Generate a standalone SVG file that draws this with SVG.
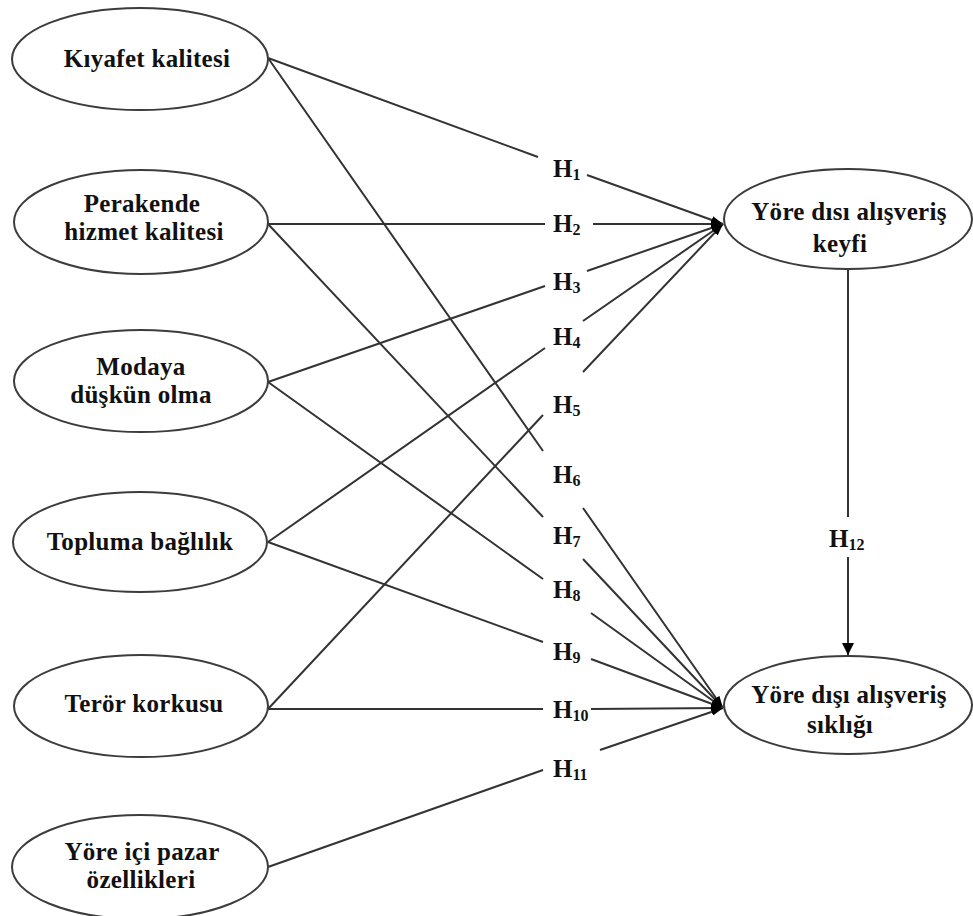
<svg xmlns="http://www.w3.org/2000/svg" width="973" height="916" viewBox="0 0 973 916">
<style>
.node ellipse { fill: #fff; stroke: #3c3c3c; stroke-width: 2; }
.node text { font-family: "Liberation Serif", "Times New Roman", serif; font-weight: bold; font-size: 25px; letter-spacing: 0.3px; fill: #111; text-anchor: middle; }
.conn path { fill: none; stroke: #333; stroke-width: 2; }
.lbl { font-family: "Liberation Serif", "Times New Roman", serif; font-weight: bold; font-size: 25px; fill: #111; }
.lbl tspan { font-size: 16px; }
</style>
<defs>
<marker id="ah" viewBox="0 0 12 8" refX="12" refY="4" markerWidth="12" markerHeight="8" markerUnits="userSpaceOnUse" orient="auto">
<path d="M0,0 L12,4 L0,8 z" fill="#000"/>
</marker>
<marker id="ah2" viewBox="0 0 12 12" refX="12" refY="6" markerWidth="12" markerHeight="12" markerUnits="userSpaceOnUse" orient="auto">
<path d="M0,0 L12,6 L0,12 z" fill="#000"/>
</marker>
</defs>
<rect width="973" height="916" fill="#fff"/>

<g id="connectors" class="conn">
<path d="M268,58 L538,157 M587,175 L723,224" marker-end="url(#ah)"/>
<path d="M268,224 L545,224 M593,224 L723,224" marker-end="url(#ah)"/>
<path d="M268,382 L545,286 M587,271 L723,224" marker-end="url(#ah)"/>
<path d="M268,542 L545,348 M583,321 L723,224" marker-end="url(#ah)"/>
<path d="M268,709 L543,415 M583,372 L723,224" marker-end="url(#ah)"/>
<path d="M268,58 L543,451 M583,508 L723,708" marker-end="url(#ah)"/>
<path d="M268,224 L543,517 M583,559 L723,708" marker-end="url(#ah)"/>
<path d="M268,382 L543,579 M591,613 L723,708" marker-end="url(#ah)"/>
<path d="M268,542 L543,642 M591,659 L723,708" marker-end="url(#ah)"/>
<path d="M268,709 L543,709 M591,709 L723,708" marker-end="url(#ah)"/>
<path d="M268,867 L543,770 M600,750 L723,708" marker-end="url(#ah)"/>
<path d="M848,269 L848,517 M848,557 L848,655" marker-end="url(#ah2)"/>
<text class="lbl" x="553" y="177">H<tspan dy="3">1</tspan></text>
<text class="lbl" x="553" y="232">H<tspan dy="3">2</tspan></text>
<text class="lbl" x="553" y="290">H<tspan dy="3">3</tspan></text>
<text class="lbl" x="553" y="345">H<tspan dy="3">4</tspan></text>
<text class="lbl" x="553" y="413">H<tspan dy="3">5</tspan></text>
<text class="lbl" x="553" y="483">H<tspan dy="3">6</tspan></text>
<text class="lbl" x="553" y="544">H<tspan dy="3">7</tspan></text>
<text class="lbl" x="553" y="598">H<tspan dy="3">8</tspan></text>
<text class="lbl" x="553" y="660">H<tspan dy="3">9</tspan></text>
<text class="lbl" x="553" y="718">H<tspan dy="3">10</tspan></text>
<text class="lbl" x="553" y="777">H<tspan dy="3">11</tspan></text>
<text class="lbl" x="829" y="547">H<tspan dy="3">12</tspan></text>
</g>

<g id="kiyafet" class="node">
<ellipse cx="140" cy="59" rx="128" ry="51"/>
<text x="147" y="67">Kıyafet kalitesi</text>
</g>
<g id="perakende" class="node">
<ellipse cx="141" cy="222" rx="127" ry="52"/>
<text x="142" y="212">Perakende</text>
<text x="144" y="240">hizmet kalitesi</text>
</g>
<g id="modaya" class="node">
<ellipse cx="141" cy="381" rx="127" ry="51"/>
<text x="141" y="375">Modaya</text>
<text x="141" y="403">düşkün olma</text>
</g>
<g id="topluma" class="node">
<ellipse cx="140" cy="542" rx="127" ry="50"/>
<text x="140" y="550">Topluma bağlılık</text>
</g>
<g id="teror" class="node">
<ellipse cx="141" cy="706" rx="127" ry="51"/>
<text x="144" y="712">Terör korkusu</text>
</g>
<g id="yore-ici" class="node">
<ellipse cx="140" cy="867" rx="128" ry="52"/>
<text x="142" y="860">Yöre içi pazar</text>
<text x="141" y="888">özellikleri</text>
</g>
<g id="keyfi" class="node">
<ellipse cx="848" cy="219" rx="124" ry="50"/>
<text x="849" y="220">Yöre dısı alışveriş</text>
<text x="840" y="252">keyfi</text>
</g>
<g id="siklik" class="node">
<ellipse cx="848" cy="705" rx="124" ry="49"/>
<text x="849" y="703">Yöre dışı alışveriş</text>
<text x="840" y="733">sıklığı</text>
</g>
</svg>
